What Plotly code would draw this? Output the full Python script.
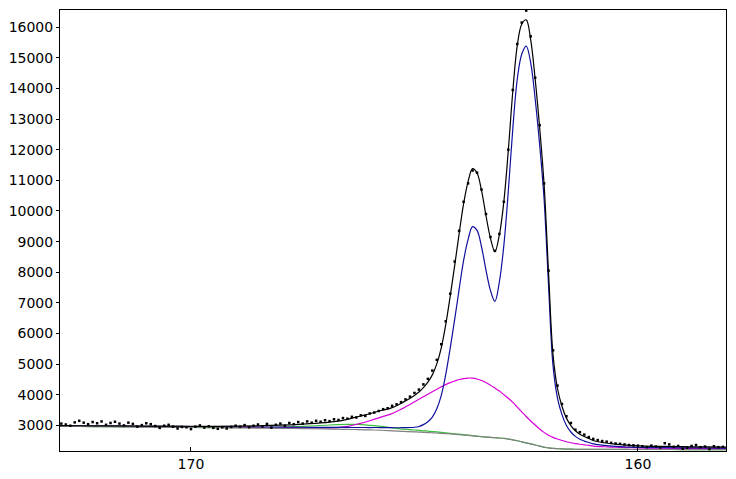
import plotly.graph_objects as go

# Binding energy grid of the fit curves (eV)
be_fit = [172.93, 172.5, 172.0, 171.5, 171.0, 170.5, 170.0, 169.5, 169.0, 168.5,
          168.0, 167.5, 167.0, 166.75, 166.5, 166.25, 166.0, 165.75, 165.5, 165.25, 165.0,
          164.9, 164.8, 164.7, 164.6, 164.5, 164.4, 164.3, 164.2, 164.1, 164.0,
          163.9, 163.8, 163.7, 163.6, 163.5, 163.4, 163.3, 163.2, 163.1, 163.0,
          162.9, 162.8, 162.7, 162.6, 162.5, 162.4, 162.3, 162.2, 162.1, 162.0,
          161.9, 161.8, 161.7, 161.6, 161.5, 161.4, 161.3, 161.2, 161.1, 161.0,
          160.75, 160.5, 160.25, 160.0, 159.5, 159.0, 158.5, 158.03]

# Shirley background (counts)
background = [2970, 2965, 2960, 2955, 2948, 2942, 2935, 2928, 2920, 2912,
              2905, 2895, 2885, 2878, 2870, 2862, 2853, 2843, 2825, 2805, 2790,
              2784, 2775, 2768, 2760, 2752, 2743, 2733, 2722, 2710, 2698,
              2685, 2672, 2658, 2645, 2632, 2620, 2608, 2598, 2590, 2575,
              2555, 2530, 2500, 2465, 2430, 2395, 2362, 2325, 2293, 2265,
              2250, 2240, 2232, 2228, 2225, 2222, 2220, 2219, 2218, 2217,
              2216, 2215, 2215, 2214, 2214, 2213, 2213, 2212]

# Component intensities above background (counts)
comp_doublet = [15, 15, 16, 17, 19, 21, 23, 26, 29, 33,
                38, 45, 52, 57, 63, 70, 78, 88, 100, 120, 150,
                180, 250, 350, 510, 790, 1240, 1930, 2800, 3750, 4750,
                5700, 6400, 6830, 6720, 6200, 5450, 4800, 4450, 5100, 6300,
                8100, 10150, 11800, 12650, 12950, 12450, 11300, 9850, 8100, 5300,
                2700, 1650, 1120, 770, 560, 420, 330, 270, 225, 180,
                130, 100, 80, 65, 58, 54, 52, 50]

comp_broad = [10, 10, 11, 12, 13, 14, 15, 17, 19, 21,
              24, 28, 35, 50, 100, 190, 300, 430, 560, 760, 980,
              1070, 1160, 1250, 1340, 1430, 1520, 1600, 1675, 1740, 1800,
              1845, 1875, 1885, 1870, 1835, 1780, 1705, 1620, 1530, 1430,
              1330, 1220, 1100, 980, 860, 750, 650, 560, 480, 415,
              360, 315, 275, 240, 210, 185, 165, 148, 133, 110,
              88, 72, 60, 52, 44, 38, 34, 32]

comp_small = [0, 0, 0, 0, 0, 0, 0, 0, 8, 20,
              40, 75, 120, 145, 165, 170, 150, 125, 95, 75, 60,
              55, 50, 45, 40, 35, 30, 26, 22, 18, 15,
              12, 10, 8, 6, 4, 2, 0, 0, 0, 0,
              0, 0, 0, 0, 0, 0, 0, 0, 0, 0,
              0, 0, 0, 0, 0, 0, 0, 0, 0, 0,
              0, 0, 0, 0, 0, 0, 0, 0]

# Measured data points
be_data = [172.9, 172.8, 172.7, 172.6, 172.5, 172.4, 172.3, 172.2, 172.1, 172.0,
           171.9, 171.8, 171.7, 171.6, 171.5, 171.4, 171.3, 171.2, 171.1, 171.0,
           170.9, 170.8, 170.7, 170.6, 170.5, 170.4, 170.3, 170.2, 170.1, 170.0,
           169.9, 169.8, 169.7, 169.6, 169.5, 169.4, 169.3, 169.2, 169.1, 169.0,
           168.9, 168.8, 168.7, 168.6, 168.5, 168.4, 168.3, 168.2, 168.1, 168.0,
           167.9, 167.8, 167.7, 167.6, 167.5, 167.4, 167.3, 167.2, 167.1, 167.0,
           166.9, 166.8, 166.7, 166.6, 166.5, 166.4, 166.3, 166.2, 166.1, 166.0,
           165.9, 165.8, 165.7, 165.6, 165.5, 165.4, 165.3, 165.2, 165.1, 165.0,
           164.9, 164.8, 164.7, 164.6, 164.5, 164.4, 164.3, 164.2, 164.1, 164.0,
           163.9, 163.8, 163.7, 163.6, 163.5, 163.4, 163.3, 163.2, 163.1, 163.0,
           162.9, 162.8, 162.7, 162.6, 162.5, 162.4, 162.3, 162.2, 162.1, 162.0,
           161.9, 161.8, 161.7, 161.6, 161.5, 161.4, 161.3, 161.2, 161.1, 161.0,
           160.9, 160.8, 160.7, 160.6, 160.5, 160.4, 160.3, 160.2, 160.1, 160.0,
           159.9, 159.8, 159.7, 159.6, 159.5, 159.4, 159.3, 159.2, 159.1, 159.0,
           158.9, 158.8, 158.7, 158.6, 158.5, 158.4, 158.3, 158.2, 158.1]

counts = [3060, 3030, 2990, 3100, 3150, 3090, 3040, 3110, 3070, 3130,
          3020, 3080, 3120, 3060, 3000, 3090, 3050, 2960, 3010, 3070,
          3040, 2980, 2920, 2990, 3020, 2960, 2900, 2950, 2940, 2880,
          2960, 3000, 2930, 2970, 2920, 2890, 2940, 2900, 2950, 2990,
          2960, 3010, 2940, 2990, 3030, 2970, 3050, 2930, 3020, 3060,
          2990, 3080, 3040, 3110, 3060, 3130, 3090, 3150, 3120, 3170,
          3140, 3200, 3180, 3240, 3220, 3280, 3260, 3330, 3310, 3390,
          3420, 3470, 3530, 3560, 3640, 3690, 3760, 3850, 3940, 4060,
          4170, 4340, 4520, 4790, 5140, 5650, 6400, 7300, 8350, 9350,
          10300, 10900, 11320, 11250, 10700, 9900, 9150, 8700, 9250, 10300,
          12000, 13950, 15450, 16150, 16540, 15700, 14350, 12800, 10900, 8050,
          5450, 4300, 3700, 3300, 3080, 2860, 2780, 2700, 2620, 2560,
          2520, 2490, 2470, 2430, 2410, 2400, 2380, 2360, 2350, 2340,
          2320, 2290, 2340, 2310, 2280, 2420, 2380, 2300, 2330, 2240,
          2270, 2330, 2360, 2290, 2310, 2230, 2320, 2290, 2300]

x_ticks = [170, 160]
y_ticks = [3000, 4000, 5000, 6000, 7000, 8000, 9000, 10000, 11000, 12000,
           13000, 14000, 15000, 16000]

bg_line = background
doublet_line = [b + c for b, c in zip(background, comp_doublet)]
broad_line = [b + c for b, c in zip(background, comp_broad)]
small_line = [b + c for b, c in zip(background, comp_small)]
envelope = [b + d + m + s for b, d, m, s in zip(background, comp_doublet, comp_broad, comp_small)]

fig = go.Figure()
fig.add_trace(go.Scatter(x=be_fit, y=small_line, mode="lines",
                         line=dict(color="#3cc03c", width=1.2, shape="spline")))
fig.add_trace(go.Scatter(x=be_fit, y=broad_line, mode="lines",
                         line=dict(color="#d800d8", width=1.2, shape="spline")))
fig.add_trace(go.Scatter(x=be_fit, y=doublet_line, mode="lines",
                         line=dict(color="#10109c", width=1.2, shape="spline")))
fig.add_trace(go.Scatter(x=be_fit, y=bg_line, mode="lines",
                         line=dict(color="#808080", width=1.2, shape="spline")))
fig.add_trace(go.Scatter(x=be_fit, y=envelope, mode="lines",
                         line=dict(color="#000000", width=1.2, shape="spline")))
fig.add_trace(go.Scatter(x=be_data, y=counts, mode="markers",
                         marker=dict(color="#000000", size=2.5, symbol="square",
                                     line=dict(width=0))))

font = dict(family="DejaVu Sans", size=14, color="#000000")
fig.update_layout(
    width=736, height=479,
    margin=dict(l=60, r=10, t=10, b=28, autoexpand=False),
    paper_bgcolor="white", plot_bgcolor="white",
    showlegend=False, hovermode=False,
    font=font,
)
fig.update_xaxes(range=[172.93, 158.03], tickvals=x_ticks, ticktext=[str(v) for v in x_ticks],
                 showgrid=False, zeroline=False, showline=True, mirror=True,
                 linecolor="black", linewidth=1, ticks="inside", ticklen=4,
                 tickcolor="black", tickfont=font, automargin=False)
fig.update_yaxes(range=[2165, 16560], tickvals=y_ticks, ticktext=[str(v) for v in y_ticks],
                 showgrid=False, zeroline=False, showline=True, mirror=True,
                 linecolor="black", linewidth=1, ticks="outside", ticklen=3,
                 tickcolor="black", tickfont=font, automargin=False)

fig.write_html("out.html", config={"displayModeBar": False},
               post_script="document.body.style.margin='0px';document.body.style.overflow='hidden';")
